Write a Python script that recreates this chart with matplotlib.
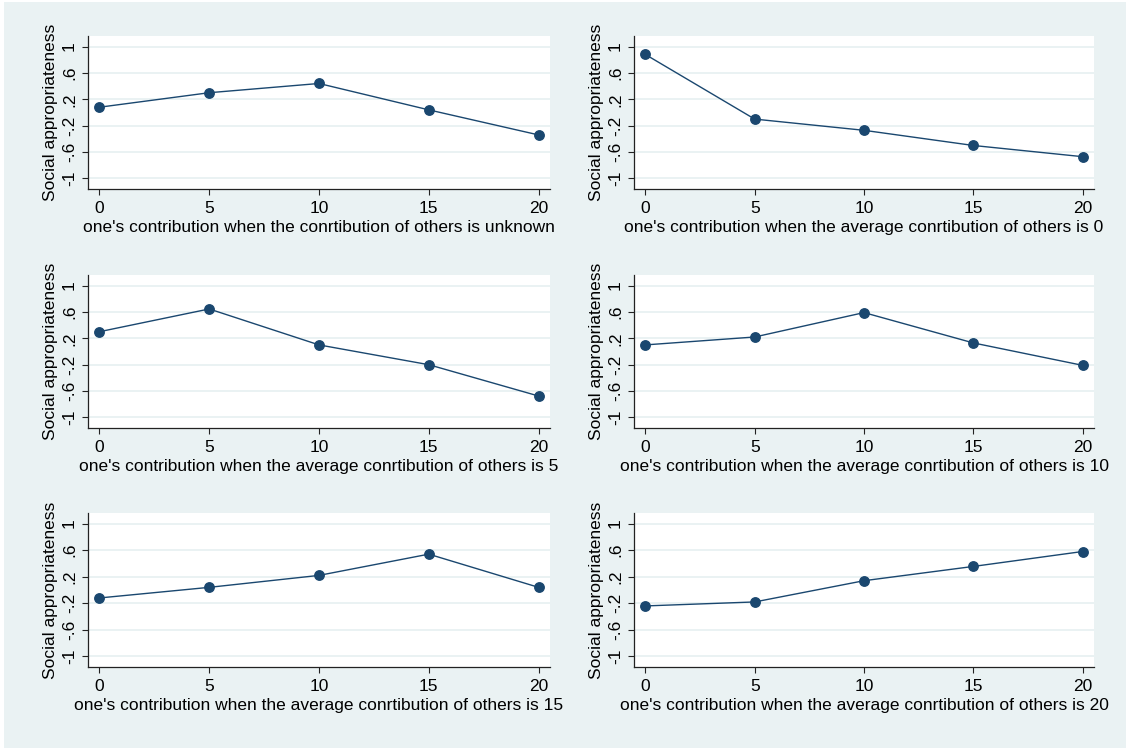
import matplotlib
matplotlib.use("Agg")
import matplotlib.pyplot as plt
from matplotlib.patches import Rectangle

plt.rcParams['font.family'] = ['Liberation Sans', 'DejaVu Sans']

contrib = [0, 5, 10, 15, 20]
unknown = [0.08, 0.30, 0.44, 0.04, -0.34]
others0 = [0.88, -0.10, -0.27, -0.50, -0.67]
others5 = [0.30, 0.645, 0.10, -0.20, -0.675]
others10 = [0.10, 0.22, 0.59, 0.13, -0.21]
others15 = [-0.12, 0.04, 0.22, 0.54, 0.04]
others20 = [-0.24, -0.18, 0.14, 0.355, 0.58]

series = [unknown, others0, others5, others10, others15, others20]
xlabels = [
    "one's contribution when the conrtibution of others is unknown",
    "one's contribution when the average conrtibution of others is 0",
    "one's contribution when the average conrtibution of others is 5",
    "one's contribution when the average conrtibution of others is 10",
    "one's contribution when the average conrtibution of others is 15",
    "one's contribution when the average conrtibution of others is 20",
]
yticks = [-1, -0.6, -0.2, 0.2, 0.6, 1]
yticklabels = ["-1", "-.6", "-.2", ".2", ".6", "1"]
ylabel = "Social appropriateness"

W, H = 1126, 748
BG = '#EAF2F3'
NAVY = '#1A476F'

fig = plt.figure(figsize=(W / 100, H / 100), dpi=100, facecolor='white')
fig.patches.append(Rectangle((4 / W, -0.01), 1, 1.01 - 2 / H, transform=fig.transFigure,
                             facecolor=BG, edgecolor='none', zorder=-10))

cols = [(88, 550), (634, 1094)]
rows = [(36, 189), (275, 428), (513, 667)]

for i, ys in enumerate(series):
    r, c = divmod(i, 2)
    l, rr = cols[c]
    t, b = rows[r]
    ax = fig.add_axes([l / W, 1 - b / H, (rr - l) / W, (b - t) / H])
    ax.set_facecolor('white')
    ax.plot(contrib, ys, color=NAVY, lw=1.0, marker='o', ms=6.8,
            mfc=NAVY, mec=NAVY, zorder=3, clip_on=False)
    ax.set_xlim(-0.52, 20.52)
    ax.set_ylim(-1.16, 1.16)
    ax.set_xticks(contrib)
    ax.set_xticklabels([str(v) for v in contrib])
    ax.set_yticks(yticks)
    ax.set_yticklabels(yticklabels, rotation=90, va='center')
    ax.grid(axis='y', color=BG, lw=1.4, zorder=0)
    ax.set_axisbelow(True)
    for s in ['top', 'right']:
        ax.spines[s].set_visible(False)
    for s in ['left', 'bottom']:
        ax.spines[s].set_color('#222222')
        ax.spines[s].set_linewidth(0.9)
    ax.tick_params(axis='both', direction='out', length=4, width=0.8,
                   color='#222222', labelsize=12.5, labelcolor='black')
    ax.tick_params(axis='x', pad=4.5)
    ax.tick_params(axis='y', pad=4)
    ax.set_xlabel(xlabels[i], fontsize=12.5, labelpad=3)
    ax.set_ylabel(ylabel, fontsize=12.5, labelpad=3)

fig.savefig('out.png', dpi=100, facecolor=fig.get_facecolor())
